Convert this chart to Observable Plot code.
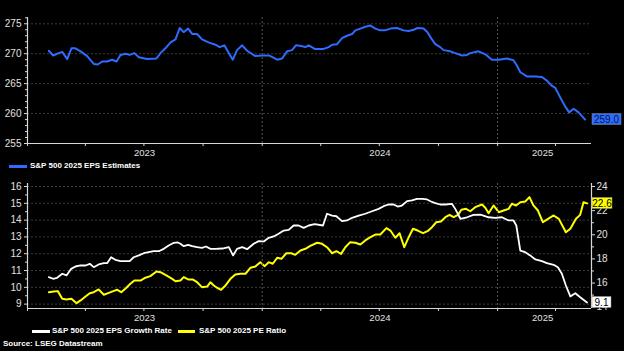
<!DOCTYPE html>
<html><head><meta charset="utf-8">
<script src="https://cdn.jsdelivr.net/npm/d3@7"></script>
<script src="https://cdn.jsdelivr.net/npm/@observablehq/plot@0.6"></script>
<style>
html,body{margin:0;padding:0;background:#000;}
#wrap{position:relative;width:624px;height:351px;background:#000;overflow:hidden;font-family:"Liberation Sans",Arial,sans-serif;}
#wrap svg{position:absolute;left:0;}
.txt{position:absolute;color:#fff;font-weight:bold;font-size:8px;line-height:10px;white-space:nowrap;}
.sw{position:absolute;height:3px;}
</style></head><body><div id="wrap"></div>
<script>
// ---------- data (time as decimal years) ----------
const epsT = [2023.091,2023.109,2023.126,2023.148,2023.169,2023.187,2023.204,2023.226,2023.254,2023.282,2023.299,2023.318,2023.339,2023.360,2023.379,2023.396,2023.417,2023.435,2023.455,2023.474,2023.509,2023.549,2023.566,2023.587,2023.609,2023.630,2023.648,2023.665,2023.684,2023.701,2023.722,2023.743,2023.771,2023.800,2023.818,2023.838,2023.857,2023.874,2023.892,2023.914,2023.935,2023.970,2023.999,2024.030,2024.063,2024.084,2024.105,2024.126,2024.143,2024.166,2024.183,2024.197,2024.223,2024.261,2024.282,2024.297,2024.318,2024.339,2024.360,2024.382,2024.396,2024.417,2024.438,2024.460,2024.481,2024.502,2024.523,2024.545,2024.573,2024.601,2024.623,2024.644,2024.661,2024.686,2024.703,2024.718,2024.736,2024.757,2024.771,2024.800,2024.821,2024.850,2024.871,2024.885,2024.920,2024.949,2024.977,2025.006,2025.041,2025.069,2025.084,2025.098,2025.126,2025.162,2025.190,2025.211,2025.230,2025.247,2025.268,2025.289,2025.306,2025.325,2025.346,2025.374];
const epsV = [270.5,269.7,270.0,270.3,269.1,270.9,270.9,270.4,269.6,268.3,268.2,268.7,268.7,269.0,268.7,269.8,270.0,269.8,270.1,269.4,269.1,269.2,270.1,270.9,271.9,272.4,274.3,273.6,274.2,273.3,273.3,272.4,271.9,271.5,271.1,271.4,270.1,269.0,270.6,271.4,270.5,269.6,269.7,269.7,269.0,269.2,270.4,270.6,271.4,271.3,271.1,271.4,270.8,270.8,271.1,271.5,271.6,272.6,273.0,273.3,273.9,274.2,274.5,274.7,274.2,273.9,273.9,274.2,274.3,273.9,273.8,274.0,274.3,274.2,273.6,272.6,271.6,271.1,270.6,270.4,270.1,269.7,269.8,270.1,270.4,269.9,269.0,269.0,269.2,268.9,268.0,266.9,266.2,266.2,266.1,265.5,264.7,264.3,262.7,261.2,260.2,260.8,260.2,259.0];

const growthT = [2023.091,2023.109,2023.126,2023.148,2023.166,2023.186,2023.204,2023.226,2023.247,2023.265,2023.282,2023.303,2023.325,2023.339,2023.356,2023.374,2023.396,2023.417,2023.435,2023.452,2023.474,2023.495,2023.516,2023.537,2023.559,2023.580,2023.601,2023.623,2023.640,2023.651,2023.665,2023.684,2023.701,2023.722,2023.743,2023.760,2023.779,2023.800,2023.829,2023.857,2023.875,2023.892,2023.914,2023.935,2023.963,2023.984,2024.006,2024.027,2024.048,2024.069,2024.091,2024.112,2024.133,2024.154,2024.176,2024.197,2024.223,2024.258,2024.275,2024.297,2024.315,2024.339,2024.360,2024.382,2024.410,2024.438,2024.467,2024.495,2024.516,2024.537,2024.559,2024.576,2024.594,2024.616,2024.637,2024.658,2024.680,2024.701,2024.718,2024.736,2024.757,2024.779,2024.807,2024.821,2024.843,2024.871,2024.899,2024.928,2024.963,2024.991,2025.020,2025.048,2025.069,2025.081,2025.098,2025.119,2025.140,2025.162,2025.190,2025.211,2025.240,2025.258,2025.275,2025.292,2025.311,2025.332,2025.353,2025.382];
const growthV = [10.61,10.51,10.57,10.81,10.71,11.10,11.24,11.30,11.30,11.40,11.20,11.36,11.44,11.44,11.79,11.64,11.56,11.56,11.56,11.79,11.90,12.03,12.09,12.15,12.15,12.29,12.49,12.65,12.67,12.59,12.45,12.53,12.45,12.39,12.35,12.43,12.29,12.29,12.31,12.39,11.90,12.29,12.39,12.27,12.59,12.75,12.73,12.95,13.03,13.19,13.38,13.42,13.68,13.68,13.54,13.68,13.76,13.68,14.38,14.27,14.23,13.94,13.98,14.14,14.27,14.38,14.53,14.67,14.83,14.93,14.93,14.81,14.87,15.13,15.17,15.27,15.27,15.23,15.11,15.01,14.93,14.93,14.97,14.67,14.08,14.17,14.31,14.33,14.17,14.14,14.17,13.98,13.98,13.68,12.19,12.09,11.90,11.66,11.56,11.44,11.34,11.20,10.81,10.11,9.46,9.65,9.41,9.1];

const peT = [2023.091,2023.112,2023.129,2023.148,2023.166,2023.187,2023.209,2023.226,2023.247,2023.265,2023.282,2023.303,2023.325,2023.346,2023.365,2023.382,2023.399,2023.421,2023.438,2023.455,2023.481,2023.502,2023.523,2023.549,2023.566,2023.591,2023.616,2023.630,2023.651,2023.665,2023.684,2023.703,2023.722,2023.743,2023.765,2023.779,2023.793,2023.807,2023.824,2023.843,2023.864,2023.885,2023.906,2023.928,2023.949,2023.970,2023.991,2024.010,2024.027,2024.044,2024.063,2024.081,2024.102,2024.123,2024.140,2024.162,2024.183,2024.204,2024.233,2024.254,2024.275,2024.297,2024.315,2024.335,2024.353,2024.374,2024.396,2024.417,2024.438,2024.460,2024.481,2024.502,2024.528,2024.545,2024.566,2024.584,2024.604,2024.623,2024.641,2024.661,2024.684,2024.703,2024.722,2024.740,2024.760,2024.779,2024.797,2024.814,2024.833,2024.847,2024.867,2024.885,2024.906,2024.935,2024.949,2024.963,2024.984,2025.006,2025.027,2025.048,2025.062,2025.080,2025.098,2025.119,2025.137,2025.154,2025.173,2025.194,2025.216,2025.240,2025.262,2025.292,2025.311,2025.335,2025.353,2025.367,2025.382];
const peV = [15.24,15.30,15.33,14.70,14.64,14.70,14.33,14.56,14.89,15.16,15.24,15.47,15.03,15.19,15.33,15.44,15.24,15.61,15.94,16.21,16.21,16.44,16.57,16.96,16.90,16.63,16.35,16.15,16.21,16.49,16.30,16.30,16.07,15.66,15.71,16.07,15.80,15.61,15.44,15.80,16.35,16.71,16.77,16.77,17.26,17.37,17.73,17.40,17.73,17.60,18.09,18.01,18.47,18.47,18.34,18.70,18.84,19.08,19.34,19.25,18.97,18.47,18.64,18.42,18.97,19.39,19.34,19.19,19.53,19.80,20.02,20.02,20.55,20.35,19.75,20.13,18.97,19.80,20.50,20.35,20.13,20.30,20.63,21.04,21.10,21.46,21.65,21.46,21.65,22.07,22.15,21.95,22.29,22.51,22.24,21.79,22.43,21.87,22.01,22.15,22.57,22.43,22.70,22.76,23.12,22.43,22.01,21.04,21.32,21.60,21.32,20.21,20.50,21.32,21.65,22.70,22.6];

const epsTicks = [255,260,265,270,275];
const epsMinor = [256,257,258,259,261,262,263,264,266,267,268,269,271,272,273,274,276];
const growthTicks = [9,10,11,12,13,14,15,16];
const growthMinor = [9.5,10.5,11.5,12.5,13.5,14.5,15.5];
const peTicks = [14,16,18,20,22,24];
const peMinor = [15,17,19,21,23];
const quarterTicks = ["2023-01-01","2023-04-01","2023-07-01","2023-10-01","2024-01-01","2024-04-01","2024-07-01","2024-10-01","2025-01-01","2025-04-01"];
const yearBreaks = ["2024-01-01","2025-01-01"];
const yearLabels = ["2023","2024","2025"];
const yearLabelDates = ["2023-07-02","2024-07-02","2025-03-12"];
const xDomainDates = ["2023-01-01","2025-05-27"];
const epsName = "S&P 500 2025 EPS Estimates";
const growthName = "S&P 500 2025 EPS Growth Rate";
const peName = "S&P 500 2025 PE Ratio";
const sourceText = "Source: LSEG Datastream";

// ---------- helpers ----------
const toDate = t => new Date(Date.UTC(2023,0,1) + (t-2023)*365.25*864e5);
const D = s => new Date(s + "T00:00:00Z");
const xDomain = xDomainDates.map(D);
const eps = epsT.map((t,i)=>({date: toDate(t), v: epsV[i]}));
const growth = growthT.map((t,i)=>({date: toDate(t), v: growthV[i]}));
const L0 = 8.74, L1 = 16.18, R0 = 13.89, R1 = 24.25;
const toLeft = r => L0 + (r - R0)*(L1 - L0)/(R1 - R0);
const toRight = l => R0 + (l - L0)*(R1 - R0)/(L1 - L0);
const pe = peT.map((t,i)=>({date: toDate(t), v: toLeft(peV[i])}));

const BLUE = "#2f6bff", YELLOW = "#ffff00", WHITE = "#ffffff";
const GRID = "#3c3c3c", AXIS = "#d8d8d8";
const FONT = "'Liberation Sans', Arial, sans-serif";
const W = 624;
const wrap = document.getElementById("wrap");
const yrFmt = d => yearLabels[yearLabelDates.findIndex(s => +D(s) === +d)];

function xMarks(yBottom){
  return [
    Plot.gridX({ticks: yearBreaks.map(D), stroke: "#555", strokeOpacity: 1, strokeDasharray: "2,2"}),
    Plot.ruleY([yBottom], {stroke: AXIS, strokeWidth: 1.2}),
    Plot.ruleX([xDomain[0]], {stroke: AXIS, strokeWidth: 1.2}),
    Plot.axisX({ticks: quarterTicks.map(D), tickSize: 3, tickFormat: () => "", stroke: AXIS, label: null}),
    Plot.axisX({ticks: yearLabelDates.map(D), tickSize: 0, tickPadding: 6, tickFormat: yrFmt, fill: "#e0e0e0", fontSize: 9.5, label: null})
  ];
}

// ---------- top chart ----------
const topChart = Plot.plot({
  width: W, height: 158,
  marginTop: 17, marginBottom: 15, marginLeft: 27, marginRight: 33,
  style: {background: "#000", color: AXIS, fontFamily: FONT, fontSize: "10px", overflow: "visible"},
  x: {type: "utc", domain: xDomain, label: null},
  y: {domain: [255, 276.05], label: null},
  marks: [
    Plot.gridY({ticks: epsTicks.slice(1), stroke: GRID, strokeOpacity: 1, strokeDasharray: "2,2"}),
    Plot.line(eps, {x: "date", y: "v", stroke: BLUE, strokeWidth: 2}),
    ...xMarks(255),
    Plot.axisY({ticks: epsTicks, tickSize: 3, tickPadding: 3, fill: "#e0e0e0", fontSize: 10, label: null}),
    Plot.axisY({ticks: epsMinor, tickSize: 2, tickFormat: () => "", label: null})
  ]
});
topChart.style.top = "0px";
wrap.appendChild(topChart);

// ---------- bottom chart ----------
const botChart = Plot.plot({
  width: W, height: 152,
  marginTop: 11, marginBottom: 16, marginLeft: 27, marginRight: 33,
  style: {background: "#000", color: AXIS, fontFamily: FONT, fontSize: "10px", overflow: "visible"},
  x: {type: "utc", domain: xDomain, label: null},
  y: {domain: [L0, L1], label: null},
  marks: [
    Plot.gridY({ticks: growthTicks, stroke: GRID, strokeOpacity: 1, strokeDasharray: "2,2"}),
    Plot.line(pe, {x: "date", y: "v", stroke: YELLOW, strokeWidth: 2}),
    Plot.line(growth, {x: "date", y: "v", stroke: WHITE, strokeWidth: 1.8}),
    ...xMarks(L0),
    Plot.ruleX([xDomain[1]], {stroke: AXIS, strokeWidth: 1.2}),
    Plot.axisY({ticks: growthTicks, tickSize: 3, tickPadding: 3, fill: "#e0e0e0", fontSize: 10, label: null}),
    Plot.axisY({ticks: growthMinor, tickSize: 2, tickFormat: () => "", label: null}),
    Plot.axisY({anchor: "right", ticks: peTicks.map(toLeft), tickSize: 3, tickPadding: 2, tickFormat: d => String(Math.round(toRight(d))), fill: "#e0e0e0", fontSize: 10, label: null}),
    Plot.axisY({anchor: "right", ticks: peMinor.map(toLeft), tickSize: 2, tickFormat: () => "", label: null})
  ]
});
botChart.style.top = "172px";
wrap.appendChild(botChart);

// ---------- end value labels (positioned by the plot's scales) ----------
function endLabel(svg, yValue, label, bg, fg, w){
  const y = svg.scale("y").apply(yValue);
  const x = W - 33 + 1;
  const g = d3.select(svg).append("g");
  g.append("rect").attr("x", x).attr("y", y - 5.5).attr("width", w).attr("height", 11)
    .attr("fill", bg).attr("stroke", "#888").attr("stroke-width", 0.5);
  g.append("text").attr("x", x + w/2).attr("y", y).attr("dy", "0.36em")
    .attr("text-anchor", "middle").attr("fill", fg)
    .attr("font-size", 10).attr("font-family", FONT).text(label);
}
endLabel(topChart, epsV[epsV.length-1], epsV[epsV.length-1].toFixed(1), BLUE, "#0a1440", 29);
endLabel(botChart, toLeft(peV[peV.length-1]), peV[peV.length-1].toFixed(1), YELLOW, "#000", 20);
endLabel(botChart, growthV[growthV.length-1], growthV[growthV.length-1].toFixed(1), WHITE, "#000", 19);

// ---------- legends and source ----------
function sw(left, top, width, color){
  const d = document.createElement("div"); d.className = "sw";
  d.style.left = left+"px"; d.style.top = top+"px"; d.style.width = width+"px"; d.style.background = color;
  wrap.appendChild(d);
}
function txt(left, top, s){
  const d = document.createElement("div"); d.className = "txt";
  d.style.left = left+"px"; d.style.top = top+"px"; d.textContent = s;
  wrap.appendChild(d);
}
sw(9, 165, 18, BLUE); txt(30, 161, epsName);
sw(32, 330, 18, WHITE); txt(52, 326, growthName);
sw(178, 330, 17, YELLOW); txt(199, 326, peName);
txt(3, 339, sourceText);
</script></body></html>
